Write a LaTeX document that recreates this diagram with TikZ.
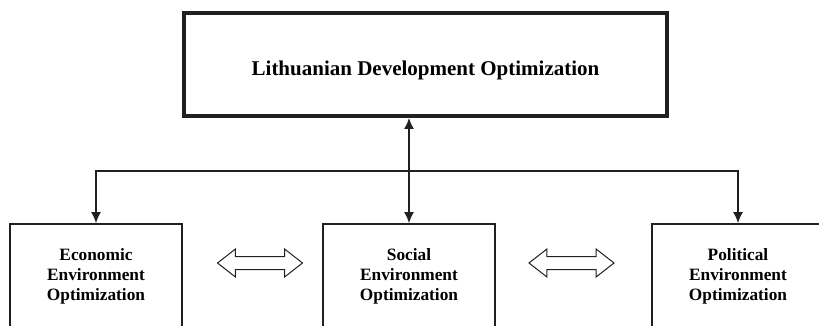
\documentclass[tikz,border=0pt]{standalone}
\usepackage{fontspec}
\setmainfont{Liberation Serif}
\usetikzlibrary{positioning,arrows.meta,shapes.arrows}
\definecolor{diagink}{RGB}{35,31,32}
\tikzset{
  topbox/.style={rectangle, draw=diagink, line width=4pt, minimum width=483pt,
    minimum height=103pt, text height=28pt, text depth=5pt, align=center,
    font=\fontsize{21}{25}\selectfont\bfseries},
  areabox/.style={rectangle, draw=diagink, line width=1.8pt, minimum width=172pt,
    minimum height=104pt, align=center, font=\fontsize{17.3}{20}\selectfont\bfseries},
  linkstyle/.style={diagink, line width=1.3pt},
  tipstyle/.style={-{Latex[length=11pt,width=10pt]}, linkstyle},
  bothtips/.style={{Latex[length=11pt,width=10pt]}-{Latex[length=11pt,width=10pt]}, linkstyle},
  twoway/.style={double arrow, draw=diagink, line width=1pt, fill=white,
    minimum height=85pt, inner xsep=0pt, inner ysep=6pt, text height=0pt, text depth=0pt,
    double arrow head extend=7.5pt, double arrow tip angle=76}
}

\begin{document}
\begin{tikzpicture}[x=1pt, y=-1pt]
  \useasboundingbox (0,0) rectangle (819,326);
  \node[topbox] (ldo) at (425.5,64.5) {Lithuanian Development Optimization};
  \node[areabox] (eco) at (96,276) {Economic\\Environment\\Optimization};
  \node[areabox] (soc) at (409,276) {Social\\Environment\\Optimization};
  \node[areabox] (pol) at (738,276) {Political\\Environment\\Optimization};
  \node[twoway] (ecosoc) at (260,263) {};
  \node[twoway] (socpol) at (571.5,263) {};
  \coordinate (split) at (409,171);
  \draw[bothtips] (soc.north) -- (soc.north |- ldo.south);
  \draw[tipstyle] (split) -| (eco.north);
  \draw[tipstyle] (split) -| (pol.north);
\end{tikzpicture}
\end{document}
